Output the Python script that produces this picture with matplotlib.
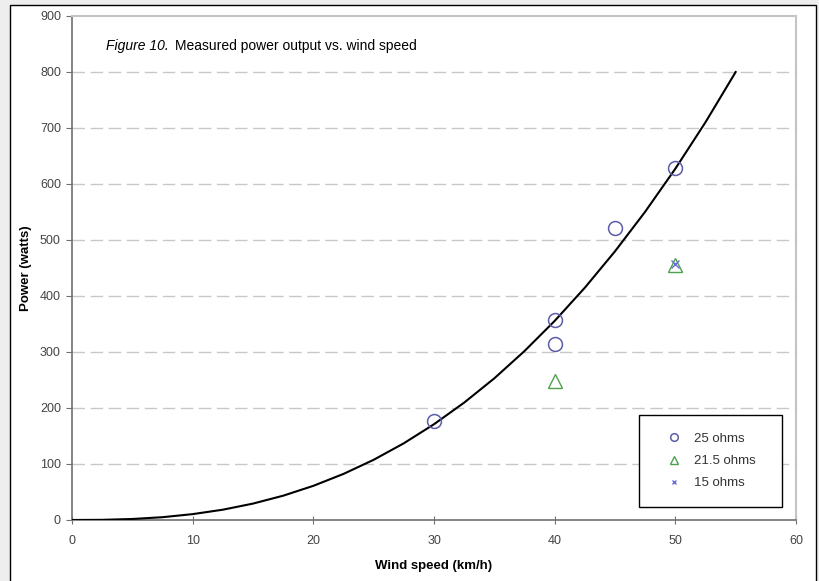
import matplotlib.pyplot as plt
from matplotlib.patches import Rectangle

# measured points
v25 = [30, 40, 40, 45, 50]
p25 = [177, 357, 315, 521, 628]
v215 = [40, 50]
p215 = [248, 455]
v15 = [50]
p15 = [457]

# trend curve
v_fit = [0, 2.5, 5, 7.5, 10, 12.5, 15, 17.5, 20, 22.5, 25, 27.5, 30,
         32.5, 35, 37.5, 40, 42.5, 45, 47.5, 50, 52.5, 55]
p_fit = [0, 0.3, 1.8, 5, 10.5, 18.4, 29.3, 43.4, 61, 82.3, 107.5, 137, 171,
         209.6, 253, 301.7, 355.5, 414.8, 479.8, 550.5, 627.3, 710.3, 800]

plt.rcParams['font.family'] = ['Liberation Sans', 'DejaVu Sans']

fig = plt.figure(figsize=(8.19, 5.81), dpi=100)
fig.patch.set_facecolor('#eeeeee')
W, H = 819, 581
fig.patches.append(Rectangle((10 / W, -0.01), (816 - 10) / W, (H - 5) / H + 0.01,
                             transform=fig.transFigure, facecolor='white',
                             edgecolor='black', linewidth=1.0, zorder=-5))

ax = fig.add_axes([72 / W, 1 - 520 / H, (796 - 72) / W, (520 - 16) / H])
ax.set_facecolor('white')

ax.plot(v_fit, p_fit, color='black', linewidth=1.5, zorder=3)
ax.plot(v25, p25, linestyle='none', marker='o', markersize=10, markerfacecolor='none',
        markeredgecolor='#5c5ca8', markeredgewidth=1.1, label='25 ohms', zorder=4)
ax.plot(v215, p215, linestyle='none', marker='^', markersize=10, markerfacecolor='none',
        markeredgecolor='#4ea04e', markeredgewidth=1.0, label='21.5 ohms', zorder=4)
ax.plot(v15, p15, linestyle='none', marker='x', markersize=6,
        markeredgecolor='#6a6ad8', markeredgewidth=1.0, label='15 ohms', zorder=4)

ax.set_xlim(0, 60)
ax.set_ylim(0, 900)
ax.set_xticks(range(0, 61, 10))
ax.set_yticks(range(0, 901, 100))
for y in range(100, 900, 100):
    ax.axhline(y, color='#c8c8c8', linewidth=1.0, dashes=(9, 4), zorder=1)

for s in ['left', 'bottom']:
    ax.spines[s].set_color('#707070')
    ax.spines[s].set_linewidth(1.2)
for s in ['top', 'right']:
    ax.spines[s].set_color('#c4c4c4')
    ax.spines[s].set_linewidth(1.5)
ax.tick_params(axis='y', direction='out', length=4, color='#707070',
               labelsize=9, labelcolor='#444444', pad=4)
ax.tick_params(axis='x', direction='inout', length=6, color='#707070',
               labelsize=9, labelcolor='#444444', pad=8)

ax.set_xlabel('Wind speed (km/h)', fontsize=9.5, fontweight='bold', labelpad=9)
ax.set_ylabel('Power (watts)', fontsize=9.5, fontweight='bold', labelpad=6)

fig.text(106 / W, 1 - 50 / H, 'Figure 10.', fontsize=10, style='italic', va='baseline')
fig.text(175 / W, 1 - 50 / H, 'Measured power output vs. wind speed', fontsize=10,
         va='baseline')

leg = ax.legend(loc='upper left', bbox_to_anchor=(639 / W, 1 - 505 / H, 143 / W, 90 / H),
                bbox_transform=fig.transFigure, mode='expand', fontsize=9.5,
                frameon=True, fancybox=False, edgecolor='black', framealpha=1,
                borderpad=1.35, labelspacing=0.75, handlelength=2.6,
                handletextpad=0.25, borderaxespad=0, markerscale=0.55,
                labelcolor='#333333')
leg.get_frame().set_linewidth(1.0)

fig.savefig('out.png', dpi=100, facecolor=fig.get_facecolor())
